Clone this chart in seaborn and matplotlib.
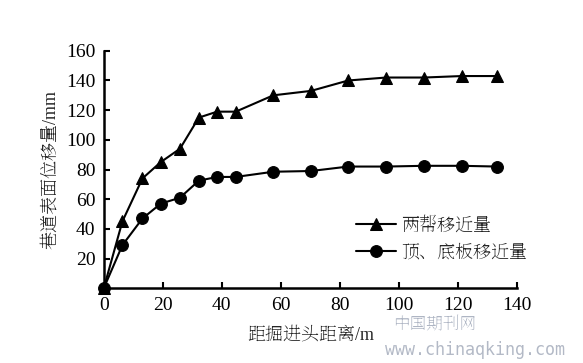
import matplotlib
matplotlib.use("Agg")
import matplotlib.pyplot as plt
import seaborn as sns
import pandas as pd

distance = [0, 6.3, 13.1, 19.3, 25.8, 32.2, 38.4, 44.7, 57.4, 70.2, 82.8, 95.6, 108.5, 121.2, 133.3]
sides = [0, 45, 74, 85, 94, 115, 119, 119, 130, 133, 140, 142, 142, 143, 143]
roof_floor = [0, 29, 47, 57, 61, 72.5, 75, 75, 78.5, 79, 82, 82, 82.5, 82.5, 82]
series_names = ["两帮移近量", "顶、底板移近量"]
x_ticks = [0, 20, 40, 60, 80, 100, 120, 140]
y_ticks = [20, 40, 60, 80, 100, 120, 140, 160]

sns.set_theme(style="ticks")
FAM = ['Liberation Serif', 'Noto Serif SC', 'Noto Sans CJK SC', 'DejaVu Sans']
plt.rcParams['font.family'] = FAM

df = pd.DataFrame({
    "x": distance * 2,
    "y": sides + roof_floor,
    "series": [series_names[0]] * len(distance) + [series_names[1]] * len(distance),
})

fig = plt.figure(figsize=(5.83, 3.63), dpi=100)
ax = fig.add_axes([0.178, 0.206, 0.709, 0.654])

sns.lineplot(data=df, x="x", y="y", hue="series", style="series",
             markers={series_names[0]: "^", series_names[1]: "o"},
             dashes=False, palette={series_names[0]: "black", series_names[1]: "black"},
             markersize=8.5, linewidth=1.5, markeredgecolor="black", ax=ax,
             clip_on=False, zorder=3)

ax.set_xlim(0, 140)
ax.set_ylim(0, 160)
ax.set_xticks(x_ticks)
ax.set_yticks(y_ticks)
ax.tick_params(direction="in", length=4, width=1.5, labelsize=14, colors="black", pad=6)
for s in ["top", "right"]:
    ax.spines[s].set_visible(False)
for s in ["left", "bottom"]:
    ax.spines[s].set_linewidth(1.8)
    ax.spines[s].set_color("black")

ax.set_xlabel("距掘进头距离/m", fontsize=13, family=FAM, labelpad=9)
ax.set_ylabel("巷道表面位移量/mm", fontsize=13, family=FAM, labelpad=5)

leg = ax.legend(loc="upper left", bbox_to_anchor=(0.61, 0.30), frameon=False,
                prop={'family': FAM, 'size': 13},
                handlelength=2.2, handletextpad=0.3, labelspacing=0.55,
                borderpad=0, borderaxespad=0)

fig.text(0.675, 0.085, "中国期刊网", fontsize=12, color="#9aa3b5", alpha=0.8,
         family=FAM, ha="left", va="bottom")
fig.text(0.66, 0.01, "www.chinaqking.com", fontsize=12, color="#a0a8b8", alpha=0.8,
         family=['DejaVu Sans Mono'], ha="left", va="bottom")

fig.savefig("out.png", dpi=100)
